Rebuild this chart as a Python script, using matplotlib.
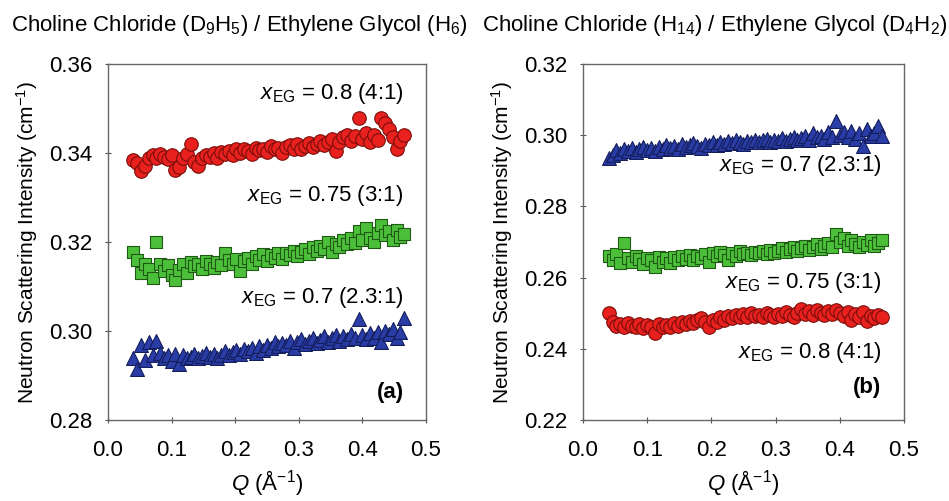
import numpy as np
import matplotlib
matplotlib.use('Agg')
from matplotlib import pyplot as plt

plt.rcParams['font.family'] = ['Liberation Sans', 'DejaVu Sans']
plt.rcParams['mathtext.fontset'] = 'custom'
plt.rcParams['mathtext.rm'] = 'Liberation Sans'
plt.rcParams['mathtext.it'] = 'Liberation Sans:italic'
plt.rcParams['mathtext.bf'] = 'Liberation Sans:bold'

# Q grid (1/A)
q = [0.040, 0.046, 0.052, 0.058, 0.064, 0.070, 0.076, 0.082, 0.088, 0.094,
     0.100, 0.106, 0.112, 0.118, 0.124, 0.130, 0.136, 0.142, 0.148, 0.154,
     0.160, 0.166, 0.172, 0.178, 0.184, 0.190, 0.196, 0.202, 0.208, 0.214,
     0.220, 0.226, 0.232, 0.238, 0.244, 0.250, 0.256, 0.262, 0.268, 0.274,
     0.280, 0.286, 0.292, 0.298, 0.304, 0.310, 0.316, 0.322, 0.328, 0.334,
     0.340, 0.346, 0.352, 0.358, 0.364, 0.370, 0.376, 0.382, 0.388, 0.394,
     0.400, 0.406, 0.412, 0.418, 0.424, 0.430, 0.436, 0.442, 0.448, 0.454,
     0.460, 0.466]

# panel (a): ChCl (D9H5) / EG (H6)
a_08 = [0.3384, 0.3378, 0.3360, 0.3372, 0.3388, 0.3395, 0.3390, 0.3398, 0.3392, 0.3386,
        0.3395, 0.3362, 0.3368, 0.3390, 0.3398, 0.3420, 0.3380, 0.3372, 0.3390, 0.3395,
        0.3392, 0.3400, 0.3388, 0.3402, 0.3398, 0.3405, 0.3395, 0.3408, 0.3400, 0.3410,
        0.3404, 0.3398, 0.3412, 0.3406, 0.3410, 0.3402, 0.3415, 0.3408, 0.3412, 0.3400,
        0.3414, 0.3418, 0.3410, 0.3420, 0.3408, 0.3416, 0.3422, 0.3414, 0.3420, 0.3426,
        0.3418, 0.3424, 0.3432, 0.3405, 0.3425, 0.3435, 0.3440, 0.3428, 0.3438, 0.3478,
        0.3432, 0.3445, 0.3425, 0.3440, 0.3430, 0.3478, 0.3468, 0.3455, 0.3435, 0.3410,
        0.3428, 0.3440]
a_075 = [0.3177, 0.3160, 0.3130, 0.3150, 0.3140, 0.3120, 0.3200, 0.3150, 0.3135, 0.3148,
         0.3125, 0.3115, 0.3138, 0.3150, 0.3130, 0.3155, 0.3145, 0.3150, 0.3140, 0.3158,
         0.3150, 0.3142, 0.3155, 0.3148, 0.3175, 0.3160, 0.3150, 0.3162, 0.3135, 0.3158,
         0.3165, 0.3150, 0.3168, 0.3160, 0.3172, 0.3158, 0.3170, 0.3165, 0.3175, 0.3162,
         0.3176, 0.3170, 0.3180, 0.3168, 0.3178, 0.3184, 0.3172, 0.3188, 0.3180, 0.3192,
         0.3185, 0.3200, 0.3178, 0.3195, 0.3188, 0.3205, 0.3195, 0.3210, 0.3198, 0.3225,
         0.3205, 0.3232, 0.3210, 0.3200, 0.3220, 0.3238, 0.3215, 0.3225, 0.3205, 0.3228,
         0.3212, 0.3218]
a_07 = [0.2940, 0.2915, 0.2968, 0.2935, 0.2975, 0.2945, 0.2978, 0.2950, 0.2938, 0.2945,
        0.2932, 0.2948, 0.2925, 0.2945, 0.2938, 0.2942, 0.2948, 0.2940, 0.2944, 0.2950,
        0.2942, 0.2948, 0.2938, 0.2946, 0.2955, 0.2945, 0.2952, 0.2958, 0.2948, 0.2960,
        0.2955, 0.2962, 0.2950, 0.2965, 0.2958, 0.2968, 0.2962, 0.2975, 0.2965, 0.2972,
        0.2968, 0.2978, 0.2962, 0.2975, 0.2982, 0.2970, 0.2978, 0.2984, 0.2972, 0.2980,
        0.2988, 0.2975, 0.2985, 0.2990, 0.2978, 0.2988, 0.2982, 0.2992, 0.2984, 0.3027,
        0.2990, 0.2982, 0.2995, 0.2985, 0.2998, 0.2975, 0.3000, 0.2992, 0.3005, 0.2985,
        0.2998, 0.3030]

# panel (b): ChCl (H14) / EG (D4H2)
b_07 = [0.2935, 0.2945, 0.2958, 0.2950, 0.2962, 0.2955, 0.2965, 0.2952, 0.2960, 0.2968,
        0.2958, 0.2964, 0.2955, 0.2966, 0.2960, 0.2972, 0.2965, 0.2970, 0.2962, 0.2975,
        0.2968, 0.2972, 0.2978, 0.2970, 0.2965, 0.2976, 0.2972, 0.2980, 0.2974, 0.2982,
        0.2976, 0.2984, 0.2978, 0.2986, 0.2980, 0.2975, 0.2985, 0.2980, 0.2988, 0.2982,
        0.2986, 0.2990, 0.2982, 0.2988, 0.2985, 0.2992, 0.2984, 0.2990, 0.2995, 0.2986,
        0.2992, 0.2998, 0.2988, 0.3005, 0.2994, 0.2998, 0.2990, 0.3008, 0.2996, 0.3040,
        0.3002, 0.3010, 0.2996, 0.3012, 0.2990, 0.3005, 0.2970, 0.3018, 0.2998, 0.3005,
        0.3025, 0.2998]
b_075 = [0.2660, 0.2650, 0.2665, 0.2640, 0.2698, 0.2655, 0.2645, 0.2660, 0.2652, 0.2638,
         0.2655, 0.2648, 0.2630, 0.2658, 0.2645, 0.2655, 0.2640, 0.2658, 0.2650, 0.2660,
         0.2652, 0.2662, 0.2648, 0.2660, 0.2655, 0.2665, 0.2645, 0.2668, 0.2660, 0.2672,
         0.2662, 0.2650, 0.2668, 0.2660, 0.2675, 0.2665, 0.2670, 0.2662, 0.2672, 0.2668,
         0.2675, 0.2665, 0.2678, 0.2670, 0.2676, 0.2682, 0.2672, 0.2680, 0.2685, 0.2675,
         0.2682, 0.2690, 0.2678, 0.2686, 0.2695, 0.2680, 0.2690, 0.2698, 0.2685, 0.2722,
         0.2700, 0.2712, 0.2690, 0.2705, 0.2695, 0.2685, 0.2700, 0.2692, 0.2705, 0.2688,
         0.2698, 0.2705]
b_08 = [0.2500, 0.2475, 0.2465, 0.2470, 0.2460, 0.2472, 0.2465, 0.2462, 0.2470, 0.2458,
        0.2468, 0.2462, 0.2445, 0.2470, 0.2460, 0.2468, 0.2462, 0.2472, 0.2465, 0.2475,
        0.2470, 0.2478, 0.2472, 0.2480, 0.2485, 0.2475, 0.2462, 0.2482, 0.2476, 0.2488,
        0.2482, 0.2492, 0.2485, 0.2495, 0.2488, 0.2498, 0.2490, 0.2500, 0.2492, 0.2496,
        0.2490, 0.2500, 0.2494, 0.2488, 0.2498, 0.2492, 0.2502, 0.2495, 0.2490, 0.2500,
        0.2512, 0.2498, 0.2505, 0.2495, 0.2508, 0.2500, 0.2495, 0.2505, 0.2498, 0.2508,
        0.2500, 0.2492, 0.2502, 0.2480, 0.2498, 0.2490, 0.2502, 0.2478, 0.2492, 0.2485,
        0.2495, 0.2490]

red = dict(marker='o', s=95, c='#e8201e', edgecolors='#7a0e0a', linewidths=0.8)
green = dict(marker='s', s=85, c='#4cbf3a', edgecolors='#1e5a14', linewidths=0.8)
blue = dict(marker='^', s=100, c='#2a3ca6', edgecolors='#141e5c', linewidths=0.8)

fs = 16

fig = plt.figure(figsize=(9.49, 5.01), dpi=100)
ax1 = fig.add_axes([0.1138, 0.162, 0.335, 0.710])
ax2 = fig.add_axes([0.6143, 0.162, 0.3383, 0.710])

ax1.scatter(q, a_08, **red)
ax1.scatter(q, a_075, **green)
ax1.scatter(q, a_07, **blue)

ax2.scatter(q, b_07, **blue)
ax2.scatter(q, b_075, **green)
ax2.scatter(q, b_08, **red)

ax1.set_ylim(0.28, 0.36)
ax1.set_yticks([0.28, 0.30, 0.32, 0.34, 0.36])
ax2.set_ylim(0.22, 0.32)
ax2.set_yticks([0.22, 0.24, 0.26, 0.28, 0.30, 0.32])

for ax in (ax1, ax2):
    ax.set_xlim(0.0, 0.5)
    ax.set_xticks([0.0, 0.1, 0.2, 0.3, 0.4, 0.5])
    ax.xaxis.set_major_formatter(matplotlib.ticker.FormatStrFormatter('%.1f'))
    ax.yaxis.set_major_formatter(matplotlib.ticker.FormatStrFormatter('%.2f'))
    ax.tick_params(direction='inout', length=5, width=0.8, color='#555555',
                   labelsize=fs)
    ax.tick_params(axis='x', pad=12)
    ax.tick_params(axis='y', pad=9)
    for sp in ax.spines.values():
        sp.set_color('#666666')
        sp.set_linewidth(1.0)
    ax.set_xlabel(r'$\mathit{Q}$ ($\mathrm{\AA}^{-1}$)', fontsize=fs, labelpad=5)
    ax.set_ylabel(r'Neutron Scattering Intensity (cm$^{-1}$)', fontsize=15, labelpad=6)

lab = r'$\mathit{x}_{\mathrm{EG}}$'
ax1.text(0.93, 0.918, lab + ' = 0.8 (4:1)', transform=ax1.transAxes, ha='right', va='center', fontsize=fs)
ax1.text(0.93, 0.63, lab + ' = 0.75 (3:1)', transform=ax1.transAxes, ha='right', va='center', fontsize=fs)
ax1.text(0.93, 0.345, lab + ' = 0.7 (2.3:1)', transform=ax1.transAxes, ha='right', va='center', fontsize=fs)
ax1.text(0.93, 0.076, '(a)', transform=ax1.transAxes, ha='right', va='center', fontsize=fs, fontweight='bold')

ax2.text(0.93, 0.716, lab + ' = 0.7 (2.3:1)', transform=ax2.transAxes, ha='right', va='center', fontsize=fs)
ax2.text(0.93, 0.385, lab + ' = 0.75 (3:1)', transform=ax2.transAxes, ha='right', va='center', fontsize=fs)
ax2.text(0.93, 0.19, lab + ' = 0.8 (4:1)', transform=ax2.transAxes, ha='right', va='center', fontsize=fs)
ax2.text(0.93, 0.09, '(b)', transform=ax2.transAxes, ha='right', va='center', fontsize=fs, fontweight='bold')

fig.text(0.012, 0.95, r'Choline Chloride (D$_9$H$_5$) / Ethylene Glycol (H$_6$)', fontsize=fs, va='center')
fig.text(0.998, 0.95, r'Choline Chloride (H$_{14}$) / Ethylene Glycol (D$_4$H$_2$)', fontsize=fs,
         va='center', ha='right')

fig.savefig('out.png', dpi=100)
